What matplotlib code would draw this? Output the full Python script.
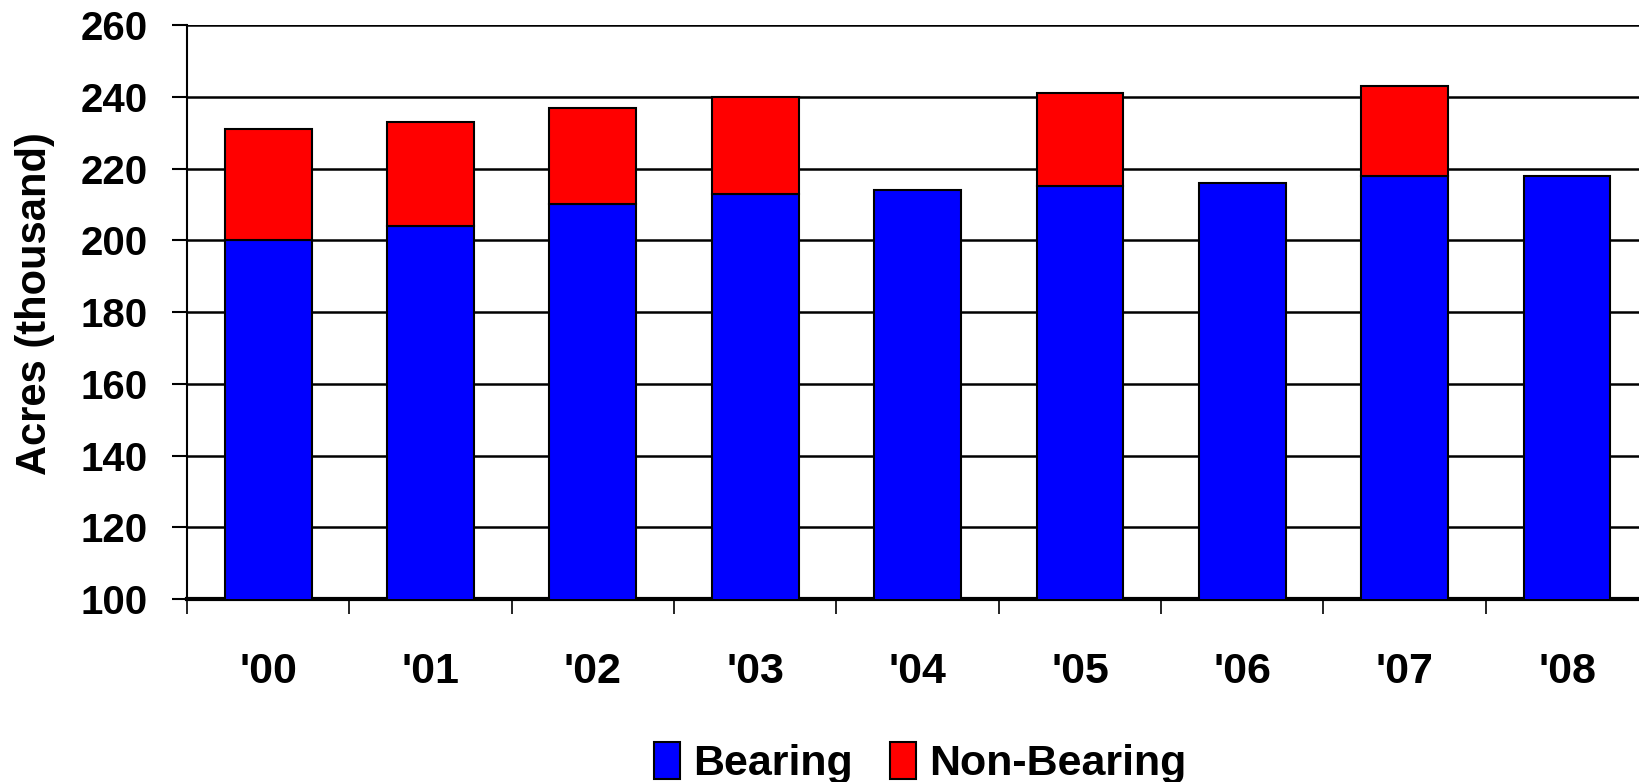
import matplotlib
matplotlib.use('Agg')
import matplotlib.pyplot as plt
import numpy as np

plt.rcParams['font.family'] = ['Liberation Sans', 'DejaVu Sans']
plt.rcParams['font.weight'] = 'bold'

years = ["'00", "'01", "'02", "'03", "'04", "'05", "'06", "'07", "'08"]
bearing = [200, 204, 210, 213, 214, 215, 216, 218, 218]
non_bearing = [31, 29, 27, 27, 0, 26, 0, 25, 0]

fig = plt.figure(figsize=(16.4, 7.82), dpi=100)
ax = fig.add_axes([0.114, 0.234, 0.891, 0.734])

x = np.arange(len(years))
ax.bar(x, bearing, width=0.535, color='#0000ff', edgecolor='black', linewidth=1.5,
       label='Bearing', zorder=3)
nb_x = [i for i, v in enumerate(non_bearing) if v > 0]
ax.bar(nb_x, [non_bearing[i] for i in nb_x], width=0.535, bottom=[bearing[i] for i in nb_x],
       color='#ff0000', edgecolor='black', linewidth=1.5, label='Non-Bearing', zorder=3)

ax.set_ylim(100, 260)
ax.set_xlim(-0.5, len(years) - 0.5)
ax.set_yticks(range(100, 261, 20))
ax.yaxis.grid(True, color='black', linewidth=1.8, zorder=0)
ax.set_axisbelow(True)

ax.set_xticks(x)
ax.set_xticklabels(years, fontsize=31, fontweight='bold')
ax.set_xticks(np.arange(-0.5, len(years), 1), minor=True)
ax.tick_params(axis='x', which='major', length=0, pad=38)
ax.tick_params(axis='x', which='minor', length=11, width=1.2, direction='out')
ax.tick_params(axis='y', length=11, width=1.5, pad=17, labelsize=29)
for lab in ax.get_yticklabels():
    lab.set_fontweight('bold')

for s in ['top', 'right']:
    ax.spines[s].set_visible(False)
ax.spines['left'].set_linewidth(1.5)
ax.spines['bottom'].set_linewidth(3)

ax.set_ylabel('Acres (thousand)', fontsize=30, fontweight='bold')
ax.yaxis.set_label_coords(-0.09, 0.515)

fig.legend(loc='center', bbox_to_anchor=(0.561, 0.024), ncol=2, frameon=False,
           handlelength=0.62, handleheight=0.95, handletextpad=0.3,
           columnspacing=0.85, prop={'weight': 'bold', 'size': 31})

fig.savefig('out.png', dpi=100)
